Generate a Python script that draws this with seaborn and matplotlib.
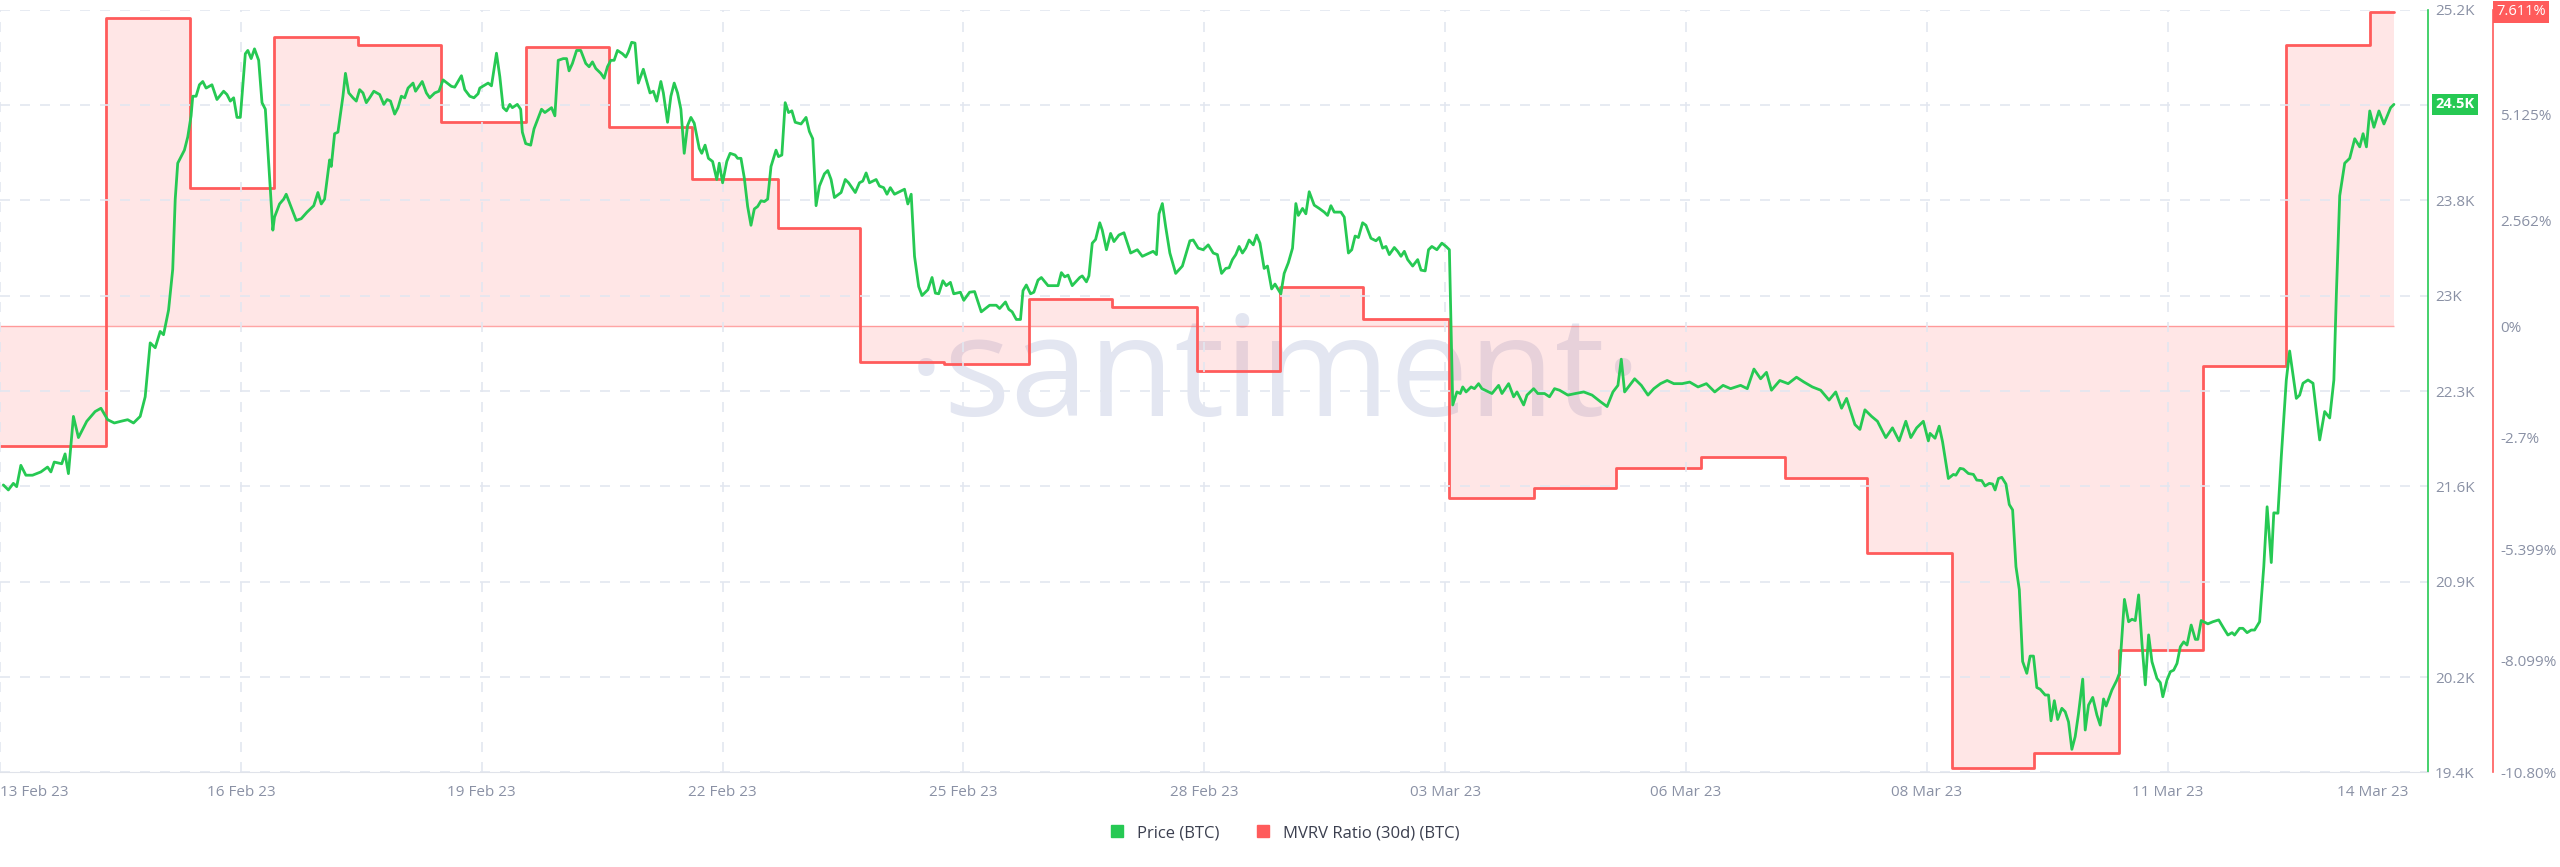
import numpy as np
import pandas as pd
import matplotlib
matplotlib.use("Agg")
import matplotlib.pyplot as plt
import matplotlib.transforms as mtransforms
from matplotlib.lines import Line2D
import seaborn as sns

sns.set_style("white")
plt.rcParams['font.family'] = ['Open Sans', 'DejaVu Sans']

# ---- data ----
# x in days from the left edge of the chart, price in USD
price_day = [0.04, 0.10, 0.16, 0.20, 0.25, 0.31, 0.39, 0.49, 0.57, 0.61, 0.65, 0.74, 0.78, 0.82, 0.88, 0.94,
             1.04, 1.14, 1.21, 1.29, 1.37, 1.45, 1.53, 1.60, 1.68, 1.74, 1.80, 1.86, 1.92, 1.96,
             2.02, 2.07, 2.10, 2.13, 2.21, 2.25, 2.29, 2.31, 2.35, 2.39, 2.43, 2.47, 2.54, 2.60, 2.68, 2.72,
             2.76, 2.80, 2.84, 2.88, 2.94, 2.97, 3.01, 3.05, 3.10, 3.14, 3.18, 3.27, 3.29, 3.35, 3.40, 3.43,
             3.55, 3.61, 3.68, 3.76, 3.81, 3.85, 3.89, 3.95, 3.97, 4.01, 4.05, 4.11, 4.14, 4.18, 4.23, 4.27,
             4.31, 4.35, 4.39, 4.43, 4.48, 4.55, 4.60, 4.64, 4.68, 4.73, 4.77, 4.81, 4.85, 4.89, 4.95, 4.98,
             5.06, 5.11, 5.15, 5.21, 5.26, 5.31, 5.41, 5.45, 5.53, 5.57, 5.63, 5.68, 5.73, 5.75, 5.85, 5.89,
             5.95, 5.99, 6.03, 6.07, 6.11, 6.14, 6.20, 6.24, 6.26, 6.30, 6.36, 6.40, 6.49, 6.53, 6.61, 6.65,
             6.69, 6.75, 6.79, 6.82, 6.86, 6.91, 6.96, 7.02, 7.06, 7.10, 7.14, 7.20, 7.24, 7.28, 7.32, 7.36,
             7.40, 7.46, 7.50, 7.53, 7.57, 7.61, 7.65, 7.71, 7.79, 7.83, 7.87, 7.92, 7.95, 8.00, 8.04, 8.08,
             8.12, 8.16, 8.20, 8.24, 8.28, 8.32, 8.38, 8.41, 8.45, 8.49, 8.54, 8.59, 8.62, 8.66, 8.71, 8.75,
             8.81, 8.84, 8.88, 8.92, 8.96, 9.00, 9.04, 9.08, 9.12, 9.16, 9.20, 9.24, 9.30, 9.33, 9.37, 9.41,
             9.45, 9.49, 9.53, 9.60, 9.66, 9.70, 9.74, 9.78, 9.82, 9.88, 9.92, 9.96, 10.00, 10.08, 10.13, 10.17,
             10.25, 10.30, 10.34, 10.38, 10.42, 10.50, 10.54, 10.59, 10.63, 10.67, 10.72, 10.84, 10.88, 10.92,
             10.96, 11.01, 11.05, 11.12, 11.17, 11.21, 11.25, 11.30, 11.34, 11.39, 11.43, 11.51, 11.55, 11.62,
             11.68, 11.76, 11.86, 11.94, 11.98, 12.05, 12.09, 12.13, 12.18, 12.23, 12.26, 12.30, 12.35, 12.39,
             12.44, 12.48, 12.56, 12.68, 12.72, 12.76, 12.80, 12.85, 12.94, 12.97, 13.02, 13.05, 13.09, 13.13,
             13.18, 13.21, 13.26, 13.31, 13.35, 13.41, 13.47, 13.55, 13.63, 13.69, 13.82, 13.86, 13.89, 13.93,
             13.97, 14.02, 14.09, 14.17, 14.26, 14.30, 14.36, 14.42, 14.48, 14.54, 14.59, 14.64, 14.69, 14.73,
             14.77, 14.81, 14.85, 14.89, 14.93, 14.97, 15.02, 15.06, 15.10, 15.15, 15.19, 15.24, 15.28, 15.35,
             15.39, 15.44, 15.49, 15.53, 15.56, 15.61, 15.65, 15.69, 15.75, 15.81, 15.87, 15.91, 15.95, 15.99,
             16.07, 16.11, 16.16, 16.20, 16.24, 16.28, 16.33, 16.37, 16.43, 16.49, 16.53, 16.57, 16.61, 16.65,
             16.71, 16.75, 16.79, 16.83, 16.87, 16.93, 16.99, 17.03, 17.08, 17.12, 17.16, 17.22, 17.28, 17.33,
             17.37, 17.41, 17.46, 17.50, 17.53, 17.57, 17.63, 17.67, 17.72, 17.76, 17.88, 17.96, 18.00, 18.08,
             18.14, 18.18, 18.26, 18.30, 18.38, 18.43, 18.51, 18.57, 18.63, 18.69, 18.79, 18.88, 18.98, 19.08,
             19.18, 19.26, 19.33, 19.39, 19.43, 19.47, 19.53, 19.59, 19.67, 19.75, 19.82, 19.90, 19.98, 20.06,
             20.16, 20.25, 20.35, 20.45, 20.55, 20.65, 20.74, 20.86, 20.94, 21.02, 21.10, 21.17, 21.23, 21.33,
             21.43, 21.53, 21.62, 21.72, 21.82, 21.92, 22.00, 22.07, 22.13, 22.23, 22.29, 22.35, 22.43, 22.50,
             22.60, 22.68, 22.76, 22.84, 22.90, 22.97, 23.05, 23.11, 23.13, 23.19, 23.24, 23.28, 23.35, 23.41,
             23.44, 23.49, 23.53, 23.59, 23.65, 23.69, 23.75, 23.79, 23.84, 23.88, 23.91, 23.95, 23.99, 24.04,
             24.08, 24.12, 24.16, 24.20, 24.24, 24.29, 24.33, 24.37, 24.41, 24.45, 24.51, 24.55, 24.58, 24.62,
             24.66, 24.71, 24.75, 24.79, 24.83, 24.87, 24.91, 24.96, 24.99, 25.03, 25.08, 25.13, 25.17, 25.21,
             25.24, 25.31, 25.37, 25.40, 25.46, 25.51, 25.55, 25.59, 25.63, 25.67, 25.71, 25.75, 25.79, 25.85,
             25.89, 25.92, 25.97, 26.01, 26.05, 26.09, 26.13, 26.17, 26.21, 26.26, 26.31, 26.34, 26.38, 26.46,
             26.52, 26.59, 26.65, 26.70, 26.75, 26.78, 26.84, 26.88, 26.93, 26.98, 27.02, 27.08, 27.13, 27.17,
             27.22, 27.25, 27.30, 27.34, 27.40, 27.44, 27.52, 27.56, 27.60, 27.66, 27.72, 27.80, 27.86, 27.92,
             27.97, 28.00, 28.04, 28.10, 28.16, 28.22, 28.28, 28.32, 28.36, 28.40, 28.45, 28.51, 28.57, 28.65,
             28.69]

price_usd = [21586, 21548, 21598, 21573, 21735, 21660, 21660, 21685, 21722, 21685, 21760, 21747, 21822, 21672, 22107, 21946,
             22070, 22144, 22169, 22082, 22057, 22070, 22082, 22057, 22107, 22256, 22666, 22629, 22753, 22728,
             22915, 23225, 23759, 24032, 24131, 24231, 24392, 24541, 24541, 24628, 24653, 24603, 24628, 24516, 24579, 24554,
             24504, 24529, 24380, 24380, 24864, 24889, 24827, 24901, 24814, 24492, 24442, 23523, 23622, 23722, 23759, 23796,
             23597, 23610, 23660, 23709, 23809, 23722, 23759, 24057, 24007, 24256, 24268, 24541, 24715, 24566, 24529, 24504,
             24591, 24566, 24492, 24529, 24579, 24554, 24479, 24516, 24504, 24405, 24454, 24541, 24529, 24603, 24641, 24579,
             24653, 24566, 24529, 24566, 24579, 24665, 24616, 24610, 24697, 24591, 24541, 24529, 24560, 24603, 24641, 24620,
             24868, 24690, 24454, 24430, 24479, 24454, 24479, 24442, 24268, 24181, 24169, 24293, 24442, 24417, 24454, 24392,
             24814, 24827, 24827, 24734, 24790, 24889, 24889, 24790, 24765, 24802, 24752, 24715, 24678, 24765, 24814, 24814,
             24889, 24864, 24839, 24877, 24951, 24945, 24641, 24746, 24566, 24579, 24504, 24653, 24566, 24343, 24541, 24641,
             24566, 24442, 24107, 24318, 24380, 24336, 24144, 24107, 24169, 24069, 24045, 23908, 24032, 23883, 24045, 24107,
             24094, 24069, 24069, 23920, 23703, 23560, 23684, 23703, 23746, 23740, 23759, 24007, 24131, 24082, 24094, 24492,
             24417, 24430, 24343, 24330, 24380, 24273, 24218, 23709, 23858, 23951, 23976, 23908, 23771, 23809, 23908, 23883,
             23809, 23883, 23896, 23958, 23883, 23908, 23858, 23846, 23796, 23846, 23796, 23834, 23722, 23796,
             23324, 23094, 23026, 23070, 23163, 23044, 23039, 23138, 23101, 23126, 23039, 23051, 22989, 23051,
             23056, 22902, 22952, 22952, 22927, 22977, 22921, 22902, 22844, 22844, 23063, 23106, 23039, 23051,
             23143, 23163, 23101, 23101, 23200, 23168, 23181, 23101, 23163, 23175, 23130, 23175, 23424, 23452,
             23579, 23523, 23374, 23498, 23436, 23486, 23503, 23349, 23374, 23324, 23362, 23337, 23647, 23725,
             23548, 23349, 23194, 23250, 23442, 23448, 23386, 23374, 23411, 23349, 23337, 23194, 23232, 23237,
             23299, 23337, 23399, 23349, 23386, 23448, 23411, 23486, 23424, 23232, 23250, 23076, 23113, 23039,
             23194, 23275, 23386, 23725, 23635, 23688, 23647, 23815, 23713, 23688, 23660, 23635, 23709, 23660,
             23660, 23622, 23349, 23374, 23478, 23467, 23579, 23560, 23461, 23442, 23467, 23386, 23399, 23337,
             23391, 23362, 23324, 23362, 23299, 23250, 23299, 23219, 23213, 23374, 23399, 23374, 23424, 23399,
             23374, 22194, 22293, 22281, 22331, 22293, 22331, 22318, 22356, 22318, 22281, 22343, 22281, 22356,
             22256, 22293, 22194, 22269, 22318, 22281, 22281, 22256, 22318, 22306, 22269, 22281, 22293, 22269,
             22219, 22182, 22293, 22343, 22542, 22293, 22343, 22393, 22343, 22269, 22318, 22356, 22380, 22356,
             22356, 22368, 22331, 22356, 22293, 22343, 22318, 22343, 22318, 22467, 22393, 22442, 22306, 22380,
             22356, 22405, 22368, 22331, 22306, 22231, 22293, 22169, 22244, 22045, 22008, 22157, 22107, 22070,
             21946, 22020, 21921, 22070, 21946, 22020, 22070, 21921, 21978, 21941, 22033, 21915, 21635, 21666,
             21660, 21712, 21707, 21673, 21666, 21623, 21619, 21578, 21598, 21593, 21548, 21635, 21644, 21593,
             21437, 21396, 20965, 20791, 20244, 20154, 20285, 20285, 20046, 20033, 19989, 19989, 19793, 19946,
             19803, 19888, 19862, 19785, 19576, 19673, 19849, 20110, 19723, 19913, 19971, 19837, 19760, 19959,
             19905, 20027, 20103, 20154, 20716, 20546, 20565, 20555, 20750, 20381, 20066, 20446, 20242, 20115,
             20083, 19976, 20103, 20166, 20178, 20229, 20356, 20393, 20369, 20521, 20412, 20412, 20555, 20530,
             20546, 20560, 20496, 20445, 20463, 20445, 20496, 20496, 20463, 20483, 20483, 20546, 20965, 21420,
             20996, 21374, 21371, 21802, 22384, 22604, 22244, 22269, 22359, 22384, 22359, 21928, 22144, 22095,
             22384, 23039, 23784, 24032, 24069, 24218, 24156, 24256, 24156, 24429, 24305, 24429, 24330, 24454,
             24479]

# MVRV (30d) daily steps: day where each value starts, value in %
mvrv_day = [0, 1.27, 2.28, 3.28, 4.29, 5.28, 6.30, 7.30, 8.29, 9.32, 10.31, 11.31, 12.33, 13.33, 14.34,
            15.34, 16.34, 17.36, 18.38, 19.37, 20.39, 21.39, 22.37, 23.39, 24.38, 25.40, 26.40, 27.40, 28.40]
mvrv_pct = [-2.89, 7.47, 3.36, 7.00, 6.80, 4.94, 6.76, 4.82, 3.56, 2.37, -0.87, -0.91, 0.67, 0.47, -1.07,
            0.95, 0.18, -4.15, -3.91, -3.44, -3.16, -3.68, -5.49, -10.69, -10.33, -7.84, -0.95, 6.80, 7.611]

date_tick_day = [0, 2.886, 5.773, 8.659, 11.546, 14.432, 17.319, 20.205, 23.092, 25.978, 28.865]
date_labels = ["13 Feb 23", "16 Feb 23", "19 Feb 23", "22 Feb 23", "25 Feb 23", "28 Feb 23",
               "03 Mar 23", "06 Mar 23", "08 Mar 23", "11 Mar 23", "14 Mar 23"]
price_ticks = [19400, 20125, 20850, 21575, 22300, 23025, 23750, 24475, 25200]
price_tick_labels = ["19.4K", "20.2K", "20.9K", "21.6K", "22.3K", "23K", "23.8K", "24.5K", "25.2K"]
mvrv_ticks = [5.125, 2.562, 0, -2.7, -5.399, -8.099, -10.80]
mvrv_tick_labels = ["5.125%", "2.562%", "0%", "-2.7%", "-5.399%", "-8.099%", "-10.80%"]

green = "#26c953"
red = "#ff5b5b"
tick_col = "#8a91a5"
grid_col = "#e3e7f0"

price_df = pd.DataFrame({"day": price_day, "price": price_usd})
step_df = pd.DataFrame({"day": mvrv_day + [price_day[-1]], "mvrv": mvrv_pct + [mvrv_pct[-1]]})

fig = plt.figure(figsize=(25.6, 8.67), dpi=100)
ax = fig.add_axes([0.0, 0.109, 0.9485, 0.880])
ax2 = ax.twinx()
ax.set_zorder(2)
ax2.set_zorder(1)
ax.patch.set_visible(False)

# watermark
ax2.text(0.525, 0.515, "\u00b7santiment\u00b7", transform=ax2.transAxes, ha="center", va="center",
         fontsize=101, color="#e3e6f1", zorder=0, family=["Open Sans", "DejaVu Sans"])

# MVRV step + fill to zero
ax2.fill_between(step_df["day"], step_df["mvrv"], 0, step="post", color=red, alpha=0.15, lw=0, zorder=1)
ax2.hlines(0, step_df["day"].iloc[0], step_df["day"].iloc[-1], color=red, alpha=0.55, lw=1.0, zorder=2)
sns.lineplot(data=step_df, x="day", y="mvrv", ax=ax2, color=red, lw=2.0, drawstyle="steps-post",
             estimator=None, sort=False, zorder=3)

# price line
sns.lineplot(data=price_df, x="day", y="price", ax=ax, color=green, lw=2.0, estimator=None, sort=False, zorder=3)

xmax = 29.10
ax.set_xlim(0, xmax)
ax.set_ylim(19400, 25200)
ax2.set_ylim(-10.80, 7.67)

ax.set_xticks(date_tick_day)
ax.set_xticklabels(date_labels)
for i, lab in enumerate(ax.get_xticklabels()):
    if i == 0:
        lab.set_ha("left")
    elif i == len(date_labels) - 1:
        lab.set_ha("right")
ax.yaxis.tick_right()
ax.set_yticks(price_ticks)
ax.set_yticklabels(price_tick_labels)
ax2.set_yticks(mvrv_ticks)
ax2.set_yticklabels(mvrv_tick_labels)

ax.tick_params(axis="x", length=0, pad=9, labelsize=11, labelcolor=tick_col)
ax.tick_params(axis="y", length=0, pad=5, labelsize=11, labelcolor=tick_col)
ax2.tick_params(axis="y", length=0, pad=5, labelsize=11, labelcolor=tick_col)

ax.grid(True, color=grid_col, lw=1.2, linestyle=(0, (6, 6)))
ax.get_xgridlines()[-1].set_visible(False)
ax2.grid(False)

for a in (ax, ax2):
    a.set_xlabel("")
    a.set_ylabel("")
    a.spines["left"].set_visible(False)
    a.spines["top"].set_visible(False)
ax.spines["bottom"].set_color("#e0e3ea")
ax2.spines["bottom"].set_visible(False)
ax.spines["right"].set_color(green)
ax.spines["right"].set_linewidth(1.2)
ax2.spines["right"].set_position(("outward", 47))
ax2.spines["right"].set_color(red)
ax2.spines["right"].set_linewidth(1.2)

# current value tags
tr = mtransforms.blended_transform_factory(ax.transAxes, ax.transData)
ax.text(1.003, price_usd[-1], f"{price_usd[-1] / 1000:.1f}K", transform=tr, ha="left", va="center",
        fontsize=10.5, color="white", fontweight="bold",
        bbox=dict(boxstyle="square,pad=0.25", fc=green, ec="none"), zorder=5, clip_on=False)
tr2 = mtransforms.blended_transform_factory(ax2.transAxes, ax2.transData)
ax2.text(1.0, mvrv_pct[-1], f"{mvrv_pct[-1]:.3f}%", transform=tr2, ha="left", va="center",
         fontsize=10.5, color="white",
         bbox=dict(boxstyle="square,pad=0.25", fc=red, ec="none"), zorder=5, clip_on=False)
# shift red tag onto the outward axis
ax2.texts[-1].set_transform(tr2 + mtransforms.ScaledTranslation(49 / 72, 0, fig.dpi_scale_trans))

handles = [Line2D([], [], marker="s", ls="", color=green, markersize=9),
           Line2D([], [], marker="s", ls="", color=red, markersize=9)]
fig.legend(handles, ["Price (BTC)", "MVRV Ratio (30d) (BTC)"], loc="center", bbox_to_anchor=(0.5, 0.039),
           ncol=2, frameon=False, fontsize=12, labelcolor="#3b3f4f", handletextpad=0.2, columnspacing=1.6)

fig.savefig("out.png", dpi=100, facecolor="white")
